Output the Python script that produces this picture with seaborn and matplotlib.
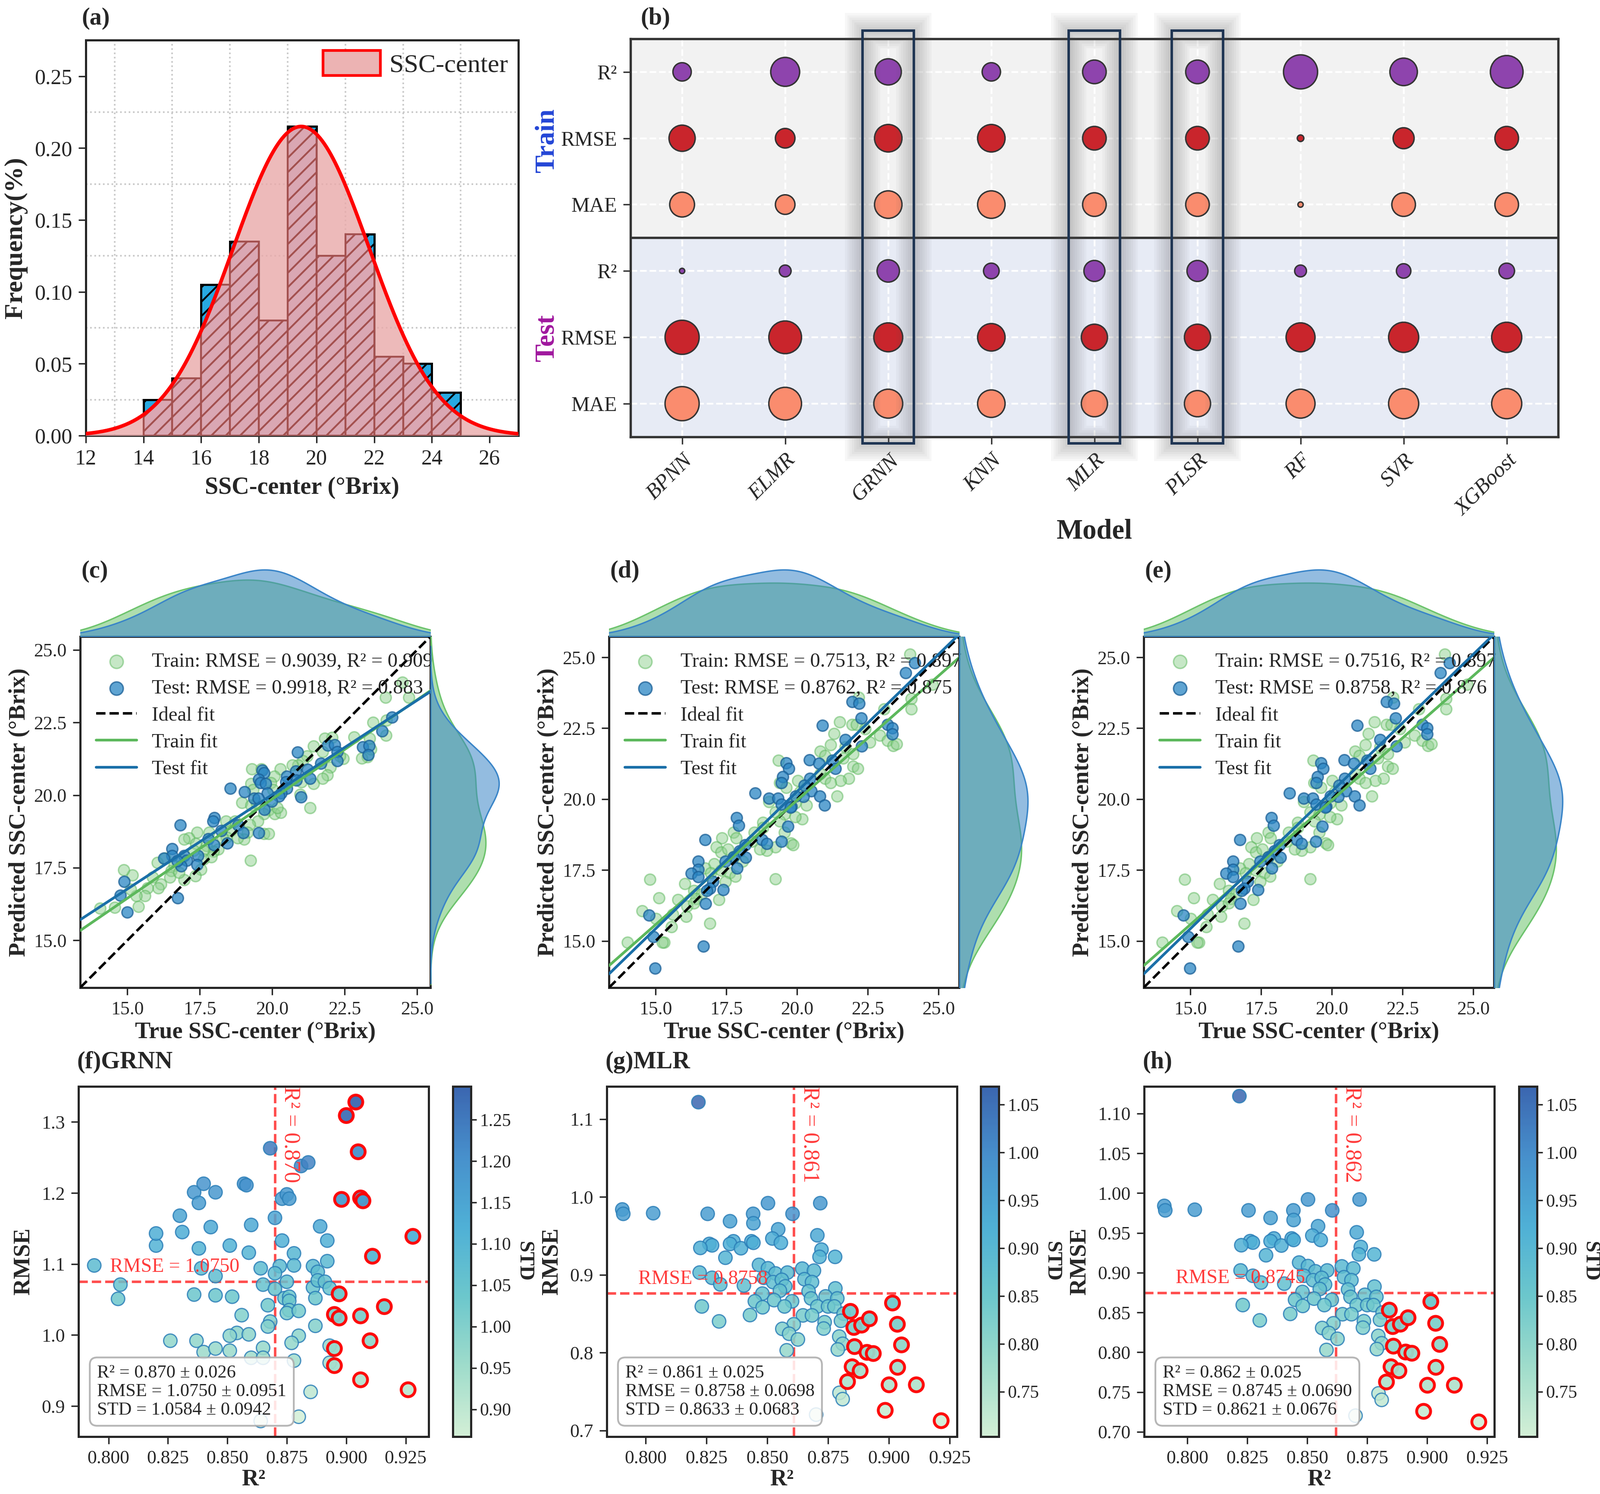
import numpy as np
import pandas as pd
import matplotlib
matplotlib.use("Agg")
import matplotlib.pyplot as plt
import seaborn as sns
from matplotlib.patches import Rectangle, Patch
from matplotlib.colors import LinearSegmentedColormap, Normalize
from matplotlib.cm import ScalarMappable
from matplotlib.ticker import MultipleLocator, FormatStrFormatter

# ---------------- data: (a) histogram of SSC-center ----------------
hist_edges = [14, 15, 16, 17, 18, 19, 20, 21, 22, 23, 24, 25]
hist_freq = [0.025, 0.04, 0.105, 0.135, 0.08, 0.215, 0.125, 0.14, 0.055, 0.05, 0.03]

# ---------------- data: (b) bubble summary (relative bubble score, area) ----------------
MODELS = ["BPNN", "ELMR", "GRNN", "KNN", "MLR", "PLSR", "RF", "SVR", "XGBoost"]
HIGHLIGHT = ["GRNN", "MLR", "PLSR"]
train_r2_score = [0.29, 0.72, 0.59, 0.29, 0.48, 0.48, 1.00, 0.65, 0.92]
train_rmse_score = [0.59, 0.33, 0.65, 0.65, 0.48, 0.48, 0.037, 0.38, 0.48]
train_mae_score = [0.53, 0.33, 0.65, 0.65, 0.48, 0.48, 0.024, 0.48, 0.48]
test_r2_score = [0.024, 0.12, 0.43, 0.21, 0.38, 0.38, 0.12, 0.18, 0.21]
test_rmse_score = [1.00, 0.92, 0.72, 0.65, 0.59, 0.59, 0.72, 0.78, 0.78]
test_mae_score = [1.00, 0.92, 0.72, 0.65, 0.59, 0.59, 0.72, 0.78, 0.78]
ROW_LABELS = ["R²", "RMSE", "MAE", "R²", "RMSE", "MAE"]

# ---------------- data: (c) GRNN predictions ----------------
c_train_true = [24.49, 24.72, 23.91, 23.94, 23.93, 23.48, 23.36, 23.29, 23.09, 23.40, 22.82, 22.45, 22.34,
                22.07, 21.82, 21.74, 21.42, 21.20, 21.05, 22.01, 21.90, 21.74, 21.43, 21.01, 20.89, 20.70,
                20.97, 21.30, 20.28, 20.07, 19.95, 20.03, 19.30, 19.63, 19.26, 19.34, 18.95, 19.26, 19.46,
                19.88, 20.09, 20.29, 20.17, 19.72, 19.50, 19.22, 19.15, 19.03, 19.72, 19.88, 18.80, 18.57,
                18.41, 18.72, 19.25, 18.42, 18.13, 18.28, 17.97, 17.90, 17.74, 17.63, 17.40, 17.12, 16.96,
                17.36, 17.28, 17.54, 17.35, 16.96, 16.62, 16.51, 16.47, 16.78, 16.31, 16.04, 15.88, 16.15,
                16.07, 15.69, 15.61, 15.30, 15.38, 15.11, 15.17, 14.88, 14.57, 14.05, 17.63, 17.83, 16.86]
c_train_pred = [23.88, 23.37, 23.36, 22.58, 22.06, 22.51, 21.95, 21.31, 21.27, 21.58, 22.00, 21.25, 21.35,
                21.98, 21.96, 21.50, 21.69, 21.35, 21.19, 20.96, 20.69, 20.57, 20.40, 20.46, 21.04, 21.04,
                20.03, 19.56, 20.90, 20.65, 20.42, 20.19, 20.90, 20.90, 20.40, 20.19, 19.74, 19.65, 19.72,
                19.49, 19.35, 19.40, 19.57, 19.35, 19.10, 18.99, 18.72, 18.48, 18.68, 18.68, 18.52, 18.78,
                19.10, 19.10, 17.75, 18.55, 18.14, 18.53, 18.06, 17.87, 18.26, 18.10, 18.72, 18.52, 18.48,
                18.33, 18.10, 17.44, 17.21, 17.09, 17.58, 17.40, 17.17, 17.33, 17.83, 17.68, 17.17, 16.94,
                16.80, 16.80, 16.54, 16.54, 16.17, 16.75, 17.24, 17.42, 16.13, 16.11, 17.79, 18.72, 17.79]
c_test_true = [24.13, 23.80, 23.12, 23.34, 23.31, 21.91, 22.16, 22.25, 22.24, 20.87, 21.68, 21.21, 21.31,
               20.81, 20.83, 20.50, 20.47, 20.50, 20.31, 20.24, 20.99, 19.66, 19.71, 19.54, 19.60, 19.77,
               19.83, 19.98, 19.73, 19.37, 19.52, 18.55, 19.04, 18.00, 17.95, 16.82, 18.24, 18.82, 19.00,
               19.53, 18.45, 17.80, 17.99, 16.55, 16.55, 16.26, 16.96, 17.05, 16.86, 17.44, 17.40, 14.89,
               14.76, 14.99, 16.73, 16.72]
c_test_pred = [22.68, 22.21, 21.66, 21.70, 21.39, 21.72, 21.73, 21.50, 21.19, 21.48, 21.10, 20.88, 20.57,
               20.83, 20.51, 20.65, 20.46, 20.23, 20.07, 19.97, 19.94, 20.85, 20.77, 20.55, 20.42, 20.40,
               20.07, 19.79, 19.51, 19.89, 19.89, 20.23, 20.11, 19.22, 19.10, 18.97, 18.78, 18.97, 18.70,
               18.70, 18.35, 18.50, 18.29, 18.16, 17.91, 17.83, 17.91, 17.75, 17.56, 17.91, 17.60, 17.02,
               16.55, 15.97, 16.46, 17.73]

# ---------------- data: (d) MLR predictions, also used for (e) PLSR ----------------
d_train_true = [23.99, 24.79, 24.03, 24.03, 22.17, 23.08, 21.50, 21.94, 22.10, 22.41, 22.93, 22.57, 23.20,
                23.39, 23.52, 21.30, 21.19, 21.70, 21.98, 20.82, 20.98, 21.63, 21.98, 22.14, 21.82, 21.54,
                21.42, 20.82, 20.98, 21.19, 19.34, 19.38, 19.62, 20.02, 20.10, 19.93, 20.33, 20.18, 19.00,
                19.23, 19.55, 19.93, 19.39, 19.55, 19.78, 19.86, 19.23, 18.93, 18.69, 19.23, 18.79, 18.79,
                18.48, 18.40, 17.76, 17.84, 17.34, 17.15, 17.31, 17.55, 17.76, 18.08, 17.07, 16.75, 16.95,
                17.31, 17.62, 17.82, 17.46, 16.35, 16.62, 16.43, 17.23, 16.03, 15.79, 16.11, 16.08, 15.60,
                15.56, 15.12, 14.80, 14.52, 15.01, 15.30, 15.24, 16.91, 14.00, 16.35]
d_train_pred = [25.10, 24.04, 23.54, 23.18, 23.59, 23.18, 22.72, 22.63, 22.63, 22.47, 22.25, 22.01, 22.07,
                21.88, 21.95, 22.31, 21.92, 21.84, 21.60, 21.68, 21.54, 21.44, 21.16, 21.08, 20.73, 20.65,
                20.11, 20.89, 20.73, 20.57, 21.36, 20.57, 20.41, 20.65, 20.25, 19.86, 19.78, 19.30, 19.90,
                19.54, 19.46, 19.38, 19.22, 18.83, 18.45, 18.39, 18.31, 18.19, 18.23, 17.18, 19.18, 18.99,
                18.83, 18.51, 18.83, 18.63, 18.63, 18.31, 18.12, 18.23, 17.96, 17.80, 17.72, 17.56, 17.40,
                17.48, 17.40, 17.28, 17.09, 16.77, 16.65, 16.49, 16.45, 17.01, 16.45, 16.22, 15.86, 15.94,
                15.50, 16.52, 17.17, 16.06, 15.78, 14.95, 14.95, 15.62, 14.95, 16.33]
d_test_true = [23.84, 24.16, 21.94, 22.19, 22.26, 20.89, 21.70, 22.28, 23.20, 23.37, 23.37, 20.44, 20.77,
               21.25, 21.35, 19.62, 19.70, 19.50, 19.45, 20.46, 20.26, 20.50, 20.22, 20.80, 20.97, 19.95,
               18.51, 19.00, 19.33, 19.45, 19.80, 19.77, 17.86, 17.94, 19.67, 16.75, 18.76, 18.93, 19.44,
               18.16, 17.97, 17.75, 18.18, 17.46, 17.88, 16.51, 16.51, 16.26, 16.50, 17.03, 16.91, 16.81,
               17.39, 16.76, 14.76, 14.92, 16.69, 14.98]
d_test_pred = [24.46, 24.80, 23.43, 23.38, 22.86, 22.59, 22.09, 21.86, 22.63, 22.51, 22.30, 21.38, 21.26,
               21.36, 21.08, 21.28, 21.08, 20.79, 20.57, 20.73, 20.49, 20.29, 20.09, 20.11, 19.79, 20.11,
               20.21, 20.02, 20.03, 19.82, 19.74, 19.71, 19.34, 19.07, 19.04, 18.57, 18.57, 18.43, 18.50,
               18.39, 18.17, 17.96, 17.94, 17.80, 17.56, 17.80, 17.52, 17.38, 17.26, 17.09, 16.85, 16.77,
               16.81, 16.32, 15.90, 15.15, 14.81, 14.04]

# ---------------- data: (f) GRNN repeated-split metrics ----------------
f_r2 = [0.794, 0.805, 0.804, 0.820, 0.820, 0.830, 0.831, 0.836, 0.838, 0.840, 0.845, 0.843, 0.838, 0.839,
        0.845, 0.836, 0.845, 0.852, 0.851, 0.857, 0.858, 0.860, 0.859, 0.868, 0.870, 0.881, 0.884, 0.873,
        0.875, 0.876, 0.873, 0.878, 0.864, 0.872, 0.878, 0.870, 0.875, 0.865, 0.870, 0.874, 0.876, 0.876,
        0.876, 0.875, 0.880, 0.867, 0.856, 0.868, 0.867, 0.854, 0.851, 0.859, 0.880, 0.877, 0.887, 0.886,
        0.887, 0.886, 0.888, 0.888, 0.891, 0.893, 0.892, 0.892, 0.889, 0.826, 0.837, 0.840, 0.845, 0.851,
        0.865, 0.860, 0.865, 0.878, 0.893, 0.893, 0.885, 0.880, 0.864, 0.904, 0.900, 0.905, 0.898, 0.906,
        0.907, 0.928, 0.911, 0.897, 0.916, 0.895, 0.897, 0.906, 0.910, 0.895, 0.895, 0.906, 0.926]
f_rmse = [1.098, 1.071, 1.051, 1.126, 1.143, 1.168, 1.145, 1.201, 1.186, 1.213, 1.201, 1.152, 1.122, 1.094,
          1.083, 1.057, 1.056, 1.054, 1.126, 1.213, 1.211, 1.155, 1.116, 1.263, 1.165, 1.238, 1.243, 1.192,
          1.198, 1.192, 1.133, 1.115, 1.094, 1.097, 1.098, 1.087, 1.075, 1.071, 1.065, 1.052, 1.054, 1.048,
          1.035, 1.031, 1.034, 1.042, 1.028, 1.019, 1.012, 1.003, 0.999, 1.001, 0.999, 0.989, 1.013, 1.067,
          1.052, 1.097, 1.089, 1.077, 1.075, 1.066, 1.104, 1.133, 1.153, 0.992, 0.992, 0.976, 0.981, 0.978,
          0.982, 0.968, 0.968, 0.964, 0.985, 0.961, 0.920, 0.885, 0.879, 1.328, 1.309, 1.258, 1.191, 1.193,
          1.189, 1.139, 1.111, 1.058, 1.040, 1.029, 1.024, 1.027, 0.992, 0.981, 0.957, 0.937, 0.923]
f_std = [1.080, 1.050, 1.035, 1.110, 1.125, 1.150, 1.128, 1.182, 1.170, 1.195, 1.185, 1.135, 1.105, 1.078,
         1.068, 1.040, 1.040, 1.038, 1.110, 1.200, 1.198, 1.138, 1.100, 1.250, 1.148, 1.228, 1.232, 1.176,
         1.182, 1.176, 1.116, 1.098, 1.078, 1.080, 1.082, 1.070, 1.058, 1.055, 1.048, 1.036, 1.038, 1.032,
         1.018, 1.015, 1.018, 1.026, 1.000, 1.002, 0.996, 0.985, 0.980, 0.982, 0.982, 0.972, 0.996, 1.050,
         1.036, 1.080, 1.072, 1.060, 1.058, 1.050, 1.088, 1.116, 1.136, 0.975, 0.975, 0.958, 0.964, 0.960,
         0.966, 0.950, 0.950, 0.946, 0.968, 0.944, 0.905, 0.870, 0.867, 1.290, 1.270, 1.200, 1.172, 1.175,
         1.170, 1.120, 1.095, 1.040, 1.022, 1.010, 1.006, 1.010, 0.974, 0.962, 0.940, 0.920, 0.905]

# ---------------- data: (g) MLR repeated-split metrics, also used for (h) PLSR ----------------
g_r2 = [0.8217, 0.7904, 0.7908, 0.8031, 0.8255, 0.8503, 0.8718, 0.8604, 0.8442, 0.8443, 0.8347, 0.8545,
        0.8706, 0.8521, 0.8556, 0.8361, 0.8347, 0.8262, 0.8273, 0.8225, 0.8392, 0.8435, 0.8443, 0.8723,
        0.8715, 0.8779, 0.8328, 0.8466, 0.8503, 0.8534, 0.8583, 0.8644, 0.8692, 0.8222, 0.8273, 0.8307,
        0.8404, 0.8486, 0.8524, 0.8560, 0.8574, 0.8653, 0.8684, 0.8670, 0.8552, 0.8480, 0.8780, 0.8740,
        0.8680, 0.8788, 0.8449, 0.8528, 0.8602, 0.8706, 0.8750, 0.8776, 0.8231, 0.8481, 0.8571, 0.8814,
        0.8429, 0.8647, 0.8684, 0.8736, 0.8732, 0.8803, 0.8302, 0.8609, 0.8562, 0.8590, 0.8626, 0.8796,
        0.8810, 0.8790, 0.8580, 0.8797, 0.8810, 0.8701, 0.8842, 0.8856, 0.8888, 0.8920, 0.9015, 0.9035,
        0.8859, 0.8910, 0.8936, 0.9052, 0.8849, 0.8882, 0.9036, 0.8830, 0.9001, 0.9113, 0.8985, 0.9215]
g_rmse = [1.1218, 0.9839, 0.9783, 0.9791, 0.9783, 0.9920, 0.9920, 0.9783, 0.9783, 0.9662, 0.9688, 0.9584,
          0.9507, 0.9466, 0.9411, 0.9430, 0.9396, 0.9396, 0.9378, 0.9345, 0.9341, 0.9430, 0.9411, 0.9323,
          0.9230, 0.9230, 0.9219, 0.9127, 0.9083, 0.9017, 0.9028, 0.9079, 0.9053, 0.9028, 0.8961, 0.8876,
          0.8862, 0.8961, 0.8906, 0.8935, 0.8851, 0.8943, 0.8906, 0.8788, 0.8795, 0.8758, 0.8825, 0.8722,
          0.8696, 0.8696, 0.8659, 0.8674, 0.8659, 0.8593, 0.8593, 0.8593, 0.8593, 0.8582, 0.8593, 0.8500,
          0.8482, 0.8478, 0.8478, 0.8390, 0.8309, 0.8408, 0.8401, 0.8364, 0.8305, 0.8242, 0.8169, 0.8206,
          0.8113, 0.8040, 0.8029, 0.7483, 0.7402, 0.7203, 0.8530, 0.8323, 0.8353, 0.8434, 0.8637, 0.8364,
          0.8077, 0.8003, 0.7988, 0.8099, 0.7818, 0.7767, 0.7811, 0.7627, 0.7586, 0.7586, 0.7258, 0.7125]
g_std = [1.069, 0.968, 0.962, 0.963, 0.962, 0.975, 0.975, 0.990, 0.962, 0.950, 0.952, 0.942, 0.935, 0.930,
         0.925, 0.927, 0.923, 0.923, 0.921, 0.918, 0.918, 0.927, 0.925, 0.916, 0.907, 0.907, 0.906, 0.897,
         0.893, 0.886, 0.887, 0.892, 0.890, 0.887, 0.881, 0.872, 0.871, 0.881, 0.875, 0.878, 0.870, 0.879,
         0.875, 0.864, 0.865, 0.861, 0.868, 0.858, 0.855, 0.855, 0.852, 0.853, 0.852, 0.845, 0.845, 0.845,
         0.845, 0.844, 0.845, 0.836, 0.834, 0.834, 0.834, 0.826, 0.818, 0.828, 0.827, 0.823, 0.818, 0.812,
         0.805, 0.808, 0.799, 0.792, 0.791, 0.738, 0.730, 0.703, 0.840, 0.820, 0.823, 0.831, 0.850, 0.823,
         0.796, 0.789, 0.787, 0.798, 0.771, 0.766, 0.770, 0.752, 0.748, 0.748, 0.716, 0.706]

N_TOP = 18

# ---------------- styling ----------------
sns.set_style("ticks")
plt.rcParams["font.family"] = ["Liberation Serif", "DejaVu Serif"]
plt.rcParams["axes.linewidth"] = 1.2
plt.rcParams["xtick.direction"] = "out"
plt.rcParams["ytick.direction"] = "out"

TRAIN_GREEN = "#6cc36c"
TEST_BLUE = "#2a86c4"
METRIC_COLORS = {"R²": "#8e44ad", "RMSE": "#c9252c", "MAE": "#fa8c6e"}
STD_CMAP = LinearSegmentedColormap.from_list(
    "std", ["#d3efd6", "#9fdccb", "#6cc7cc", "#4fb0d6", "#4790cc", "#3b66b0"])

W, H = 3710, 3464
fig = plt.figure(figsize=(W / 300, H / 300), dpi=300)


def panel_label(x, y, s):
    fig.text(x, y, s, fontsize=13.5, fontweight="bold", ha="left", va="center")


# ================= (a) =================
ax_a = fig.add_axes([0.0536, 0.7084, 0.2704, 0.2647])
edges = np.array(hist_edges, dtype=float)
df_a = pd.DataFrame({"center": (edges[:-1] + edges[1:]) / 2, "freq": hist_freq})
sns.histplot(data=df_a, x="center", weights="freq", bins=hist_edges, ax=ax_a, color="#27a9e1",
             alpha=1.0, edgecolor="black", linewidth=1.2, hatch="///", zorder=2)
centers = df_a["center"].to_numpy()
freq = df_a["freq"].to_numpy()
mu = np.sum(centers * freq) / freq.sum()
sigma = np.sqrt(np.sum(freq * (centers - mu) ** 2) / freq.sum())
xs = np.linspace(12, 27, 400)
curve = freq.max() * np.exp(-0.5 * ((xs - mu) / sigma) ** 2)
fill = ax_a.fill_between(xs, 0, curve, color="#e9a9a9", alpha=0.8, zorder=3, linewidth=0)
n0 = len(ax_a.patches)
sns.histplot(data=df_a, x="center", weights="freq", bins=hist_edges, ax=ax_a, color="#f4a7b3",
             alpha=0.5, edgecolor="#a3504f", linewidth=1.0, hatch="///", zorder=4)
clip = fill.get_paths()[0]
for bar in ax_a.patches[n0:]:
    bar.set_clip_path(clip, ax_a.transData)
sns.lineplot(x=xs, y=curve, color="red", linewidth=2, ax=ax_a, zorder=5)
ax_a.set_xlim(12, 27)
ax_a.set_ylim(0, 0.275)
ax_a.set_xticks(np.arange(12, 27, 2))
ax_a.set_yticks(np.arange(0, 0.26, 0.05))
ax_a.yaxis.set_major_formatter(FormatStrFormatter("%.2f"))
ax_a.xaxis.set_minor_locator(MultipleLocator(1))
ax_a.yaxis.set_minor_locator(MultipleLocator(0.025))
ax_a.grid(which="minor", color="#c8c8c8", linestyle=":", linewidth=0.9)
ax_a.set_axisbelow(True)
ax_a.tick_params(which="minor", length=0)
ax_a.tick_params(which="major", labelsize=12, length=4)
ax_a.set_xlabel("SSC-center (°Brix)", fontsize=13.5, fontweight="bold")
ax_a.set_ylabel("Frequency(%)", fontsize=14.5, fontweight="bold")
ax_a.legend(handles=[Patch(facecolor="#ecb3b3", edgecolor="red", linewidth=1.5, label="SSC-center")],
            loc="upper right", frameon=False, fontsize=14.5, handlelength=2.2, handleheight=1.1,
            handletextpad=0.35, borderaxespad=0.0)
panel_label(0.051, 0.9876, "(a)")

# ================= (b) =================
ax_b = fig.add_axes([0.3941, 0.7076, 0.5798, 0.2665])
row_scores = [train_r2_score, train_rmse_score, train_mae_score,
              test_r2_score, test_rmse_score, test_mae_score]
df_b = pd.DataFrame({
    "model": np.tile(MODELS, len(ROW_LABELS)),
    "row": np.repeat(np.arange(len(ROW_LABELS)), len(MODELS)),
    "metric": np.repeat(ROW_LABELS, len(MODELS)),
    "score": np.concatenate(row_scores),
})
ax_b.axhspan(-0.5, 2.5, color="#f2f2f2", zorder=0, linewidth=0)
ax_b.axhspan(2.5, 5.5, color="#e7ebf5", zorder=0, linewidth=0)
sns.scatterplot(data=df_b, x="model", y="row", hue="metric", palette=METRIC_COLORS,
                size="score", sizes=(0, 360), size_norm=(0, 1), edgecolor="#333333",
                linewidth=0.8, legend=False, ax=ax_b, zorder=3)
ax_b.axhline(2.5, color="#333333", linewidth=1.3, zorder=2)
ax_b.set_xlim(-0.5, len(MODELS) - 0.5)
ax_b.set_ylim(5.5, -0.5)
ax_b.set_yticks(range(len(ROW_LABELS)))
ax_b.set_yticklabels(ROW_LABELS, fontsize=11.5)
ax_b.set_xticks(range(len(MODELS)))
ax_b.set_xticklabels(MODELS, rotation=45, ha="right", rotation_mode="anchor",
                     fontsize=12, fontstyle="italic")
ax_b.grid(True, color="white", linestyle="--", linewidth=1.0)
ax_b.set_axisbelow(True)
for sp in ax_b.spines.values():
    sp.set_color("#333333")
    sp.set_linewidth(1.3)
ax_b.tick_params(length=4, color="#333333")
ax_b.set_ylabel("")
ax_b.set_xlabel("Model", fontsize=15.5, fontweight="bold")
ax_b.xaxis.set_label_coords(0.5, -0.205)
for name in HIGHLIGHT:
    i = MODELS.index(name)
    for k in range(1, 8):
        ax_b.add_patch(Rectangle((i - 0.25, -0.62), 0.5, 6.22, fill=False, edgecolor="#555555",
                                 linewidth=1.5 + 2.6 * k, alpha=0.045, clip_on=False, zorder=4))
    ax_b.add_patch(Rectangle((i - 0.25, -0.62), 0.5, 6.22, fill=False, edgecolor="#1f3553",
                             linewidth=1.4, clip_on=False, zorder=5))
fig.text(0.3418, 0.906, "Train", rotation=90, fontsize=15, fontweight="bold",
         color="#2446d6", ha="center", va="center")
fig.text(0.3418, 0.7737, "Test", rotation=90, fontsize=15, fontweight="bold",
         color="#a0189e", ha="center", va="center")
panel_label(0.4003, 0.9876, "(b)")


# ================= (c)(d)(e) =================
def fit_panel(left, tr_true, tr_pred, te_true, te_pred, lims, tr_text, te_text, tag):
    bottom, width, height = 0.3389, 0.2189, 0.2350
    ax = fig.add_axes([left, bottom, width, height])
    ax_top = fig.add_axes([left, bottom + height, width, 0.047])
    ax_right = fig.add_axes([left + width, bottom, 0.045, height])
    tr_true = np.array(tr_true)
    tr_pred = np.array(tr_pred)
    te_true = np.array(te_true)
    te_pred = np.array(te_pred)
    ax.set_xlim(lims)
    ax.set_ylim(lims)
    sns.scatterplot(x=tr_true, y=tr_pred, ax=ax, color="#8fd18f", alpha=0.5, s=38,
                    edgecolor="#5cb85c", linewidth=0.8, label=tr_text, zorder=3)
    sns.scatterplot(x=te_true, y=te_pred, ax=ax, color=TEST_BLUE, alpha=0.75, s=38,
                    edgecolor="#1a5f96", linewidth=0.8, label=te_text, zorder=4)
    ax.axline((lims[0], lims[0]), slope=1, color="black", linestyle="--", linewidth=1.4,
              label="Ideal fit", zorder=5)
    sns.regplot(x=tr_true, y=tr_pred, ax=ax, scatter=False, ci=None, truncate=False,
                label="Train fit", line_kws=dict(color="#5cb85c", linewidth=1.5, zorder=5))
    sns.regplot(x=te_true, y=te_pred, ax=ax, scatter=False, ci=None, truncate=False,
                label="Test fit", line_kws=dict(color="#1a6fa8", linewidth=1.5, zorder=6))
    ax.set_xlim(lims)
    ax.set_ylim(lims)
    ticks = np.arange(15, 25.1, 2.5)
    ax.set_xticks(ticks)
    ax.set_yticks(ticks)
    ax.xaxis.set_major_formatter(FormatStrFormatter("%.1f"))
    ax.yaxis.set_major_formatter(FormatStrFormatter("%.1f"))
    ax.tick_params(labelsize=10.5, length=4)
    ax.set_xlabel("True SSC-center (°Brix)", fontsize=13, fontweight="bold", labelpad=2)
    ax.set_ylabel("Predicted SSC-center (°Brix)", fontsize=13, fontweight="bold", labelpad=2)
    handles, labels = ax.get_legend_handles_labels()
    order = [tr_text, te_text, "Ideal fit", "Train fit", "Test fit"]
    hmap = dict(zip(labels, handles))
    ax.legend([hmap[o] for o in order if o in hmap], [o for o in order if o in hmap],
              loc="upper left", frameon=False, fontsize=11.2, handlelength=2.0,
              labelspacing=0.42, borderaxespad=0.4, handletextpad=0.75, markerscale=1.2)

    sns.kdeplot(x=tr_true, ax=ax_top, fill=True, color=TRAIN_GREEN, alpha=0.55, linewidth=0.8,
                bw_adjust=1.15)
    sns.kdeplot(x=te_true, ax=ax_top, fill=True, color="#3a85c8", alpha=0.55, linewidth=0.8,
                bw_adjust=1.15)
    ax_top.set_xlim(lims)
    ax_top.set_ylim(0, None)
    ax_top.margins(y=0)
    ax_top.axis("off")
    sns.kdeplot(y=tr_pred, ax=ax_right, fill=True, color=TRAIN_GREEN, alpha=0.55, linewidth=0.8,
                bw_adjust=1.15)
    sns.kdeplot(y=te_pred, ax=ax_right, fill=True, color="#3a85c8", alpha=0.55, linewidth=0.8,
                bw_adjust=1.15)
    ax_right.set_ylim(lims)
    ax_right.set_xlim(0, None)
    ax_right.margins(x=0)
    ax_right.axis("off")
    panel_label(left + 0.0008, 0.6175, tag)


fit_panel(0.0501, c_train_true, c_train_pred, c_test_true, c_test_pred, (13.37, 25.46),
          "Train: RMSE = 0.9039, R² = 0.909", "Test: RMSE = 0.9918, R² = 0.883", "(c)")
fit_panel(0.3806, d_train_true, d_train_pred, d_test_true, d_test_pred, (13.35, 25.73),
          "Train: RMSE = 0.7513, R² = 0.897", "Test: RMSE = 0.8762, R² = 0.875", "(d)")
fit_panel(0.7148, d_train_true, d_train_pred, d_test_true, d_test_pred, (13.35, 25.73),
          "Train: RMSE = 0.7516, R² = 0.897", "Test: RMSE = 0.8758, R² = 0.876", "(e)")


# ================= (f)(g)(h) =================
def metric_panel(left, cb_left, r2, rmse, std, r2_mean, rmse_mean, stats, xlims, ylims,
                 yticks, yfmt, cticks, title):
    bottom, width, height = 0.0384, 0.2189, 0.2344
    ax = fig.add_axes([left, bottom, width, height])
    cax = fig.add_axes([cb_left, bottom, 0.0113, height])
    r2 = np.array(r2)
    rmse = np.array(rmse)
    std = np.array(std)
    norm = Normalize(std.min(), std.max())
    best = r2 >= np.sort(r2)[-N_TOP]
    sns.scatterplot(x=r2[~best], y=rmse[~best], hue=std[~best], palette=STD_CMAP, hue_norm=norm,
                    s=56, alpha=0.85, edgecolor="#2c7fb8", linewidth=0.7, legend=False, ax=ax,
                    zorder=3)
    sns.scatterplot(x=r2[best], y=rmse[best], hue=std[best], palette=STD_CMAP, hue_norm=norm,
                    s=60, alpha=0.95, edgecolor="red", linewidth=1.6, legend=False, ax=ax, zorder=4)
    ax.axvline(r2_mean, color="#ff3b3b", linestyle="--", linewidth=1.4, alpha=0.9, zorder=2)
    ax.axhline(rmse_mean, color="#ff3b3b", linestyle="--", linewidth=1.4, alpha=0.9, zorder=2)
    ax.set_xlim(xlims)
    ax.set_ylim(ylims)
    ax.text(r2_mean + 0.0022, ylims[1], f"R² = {r2_mean:.3f}", rotation=270, color="#ff3b3b",
            fontsize=12.5, ha="left", va="top", zorder=6)
    ax.annotate(f"RMSE = {rmse_mean:.4f}", xy=(0.09, rmse_mean),
                xycoords=("axes fraction", "data"), xytext=(0, 3), textcoords="offset points",
                color="#ff3b3b", fontsize=11, ha="left", va="bottom", zorder=6)
    ax.text(0.053, 0.052, stats, transform=ax.transAxes, fontsize=10.2, ha="left", va="bottom",
            linespacing=1.15, zorder=10,
            bbox=dict(boxstyle="round,pad=0.4", facecolor="white", edgecolor="#aaaaaa", alpha=0.85))
    ax.set_xticks(np.arange(0.800, 0.926, 0.025))
    ax.xaxis.set_major_formatter(FormatStrFormatter("%.3f"))
    ax.set_yticks(yticks)
    ax.yaxis.set_major_formatter(FormatStrFormatter(yfmt))
    ax.tick_params(labelsize=10.5, length=4)
    ax.set_xlabel("R²", fontsize=13, fontweight="bold", labelpad=1)
    ax.set_ylabel("RMSE", fontsize=13, fontweight="bold")
    cb = fig.colorbar(ScalarMappable(norm=norm, cmap=STD_CMAP), cax=cax)
    cb.set_ticks(cticks)
    cb.ax.yaxis.set_major_formatter(FormatStrFormatter("%.2f"))
    cb.ax.tick_params(labelsize=10, length=3, pad=2)
    cb.outline.set_linewidth(1.2)
    cax.text(3.95, 0.5, "STD", transform=cax.transAxes, rotation=270, fontsize=11.5,
             fontweight="bold", ha="center", va="center")
    fig.text(left - 0.001, 0.289, title, fontsize=13.5, fontweight="bold", ha="left", va="center")


metric_panel(0.0491, 0.2830, f_r2, f_rmse, f_std, 0.870, 1.0750,
             "R² = 0.870 ± 0.026\nRMSE = 1.0750 ± 0.0951\nSTD = 1.0584 ± 0.0942",
             (0.7874, 0.9347), (0.857, 1.350), np.arange(0.9, 1.31, 0.1), "%.1f",
             np.arange(0.90, 1.26, 0.05), "(f)GRNN")
metric_panel(0.3792, 0.6129, g_r2, g_rmse, g_std, 0.861, 0.8758,
             "R² = 0.861 ± 0.025\nRMSE = 0.8758 ± 0.0698\nSTD = 0.8633 ± 0.0683",
             (0.784, 0.928), (0.692, 1.142), np.arange(0.7, 1.11, 0.1), "%.1f",
             np.arange(0.75, 1.06, 0.05), "(g)MLR")
metric_panel(0.7151, 0.9493, g_r2, g_rmse, g_std, 0.862, 0.8745,
             "R² = 0.862 ± 0.025\nRMSE = 0.8745 ± 0.0690\nSTD = 0.8621 ± 0.0676",
             (0.782, 0.928), (0.694, 1.134), np.arange(0.70, 1.11, 0.05), "%.2f",
             np.arange(0.75, 1.06, 0.05), "(h)")

fig.savefig("out.png", dpi=300)
